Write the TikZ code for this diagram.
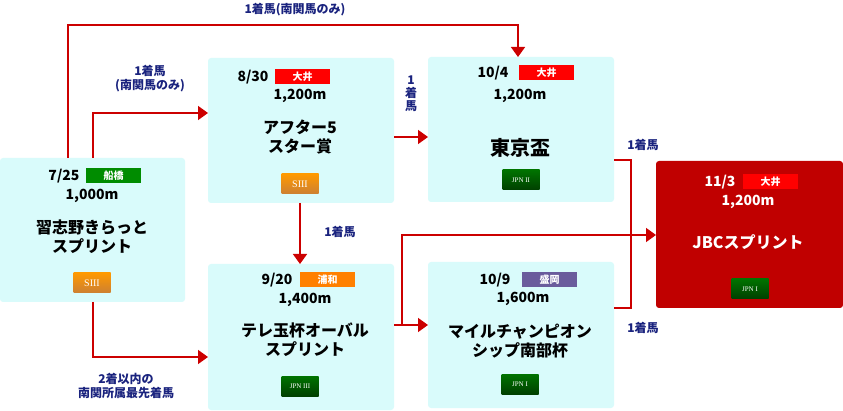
\documentclass[tikz,border=0pt]{standalone}
\usepackage{fontspec}
\setmainfont{Noto Sans CJK JP}
\newfontfamily\badgefont{Liberation Serif}
\usetikzlibrary{arrows.meta}
\definecolor{boxbg}{HTML}{D9FBFB}
\definecolor{lnred}{HTML}{CC0000}
\definecolor{navyc}{HTML}{1A237E}
\definecolor{jbcred}{HTML}{C00000}
\definecolor{morioka}{HTML}{6A5C9C}
\tikzset{
 racebox/.style={fill=boxbg,rounded corners=3pt,draw=none},
 connline/.style={draw=lnred,line width=1.6pt},
 arrline/.style={connline,-{Triangle[length=10pt,width=14pt]}},
 lbltext/.style={text=navyc,font=\bfseries\fontsize{12}{14}\selectfont,align=center},
 datetext/.style={anchor=east,font=\bfseries\fontsize{14}{14}\selectfont},
 disttext/.style={font=\bfseries\fontsize{14}{14}\selectfont},
 nametext/.style={font=\bfseries\fontsize{16}{19}\selectfont,align=center},
 venuetag/.style={anchor=west,text=white,minimum width=55pt,minimum height=15pt,inner sep=0pt,font=\bfseries\fontsize{10}{10}\selectfont},
 siiibadge/.style={minimum width=37pt,minimum height=20pt,inner sep=0pt,text=white,font=\badgefont\fontsize{10}{10}\selectfont,top color=orange!80!yellow,bottom color=brown!80!orange},
 jpnbadge/.style={minimum width=37pt,minimum height=20pt,inner sep=0pt,text=white,font=\badgefont\fontsize{7}{7}\selectfont,top color=green!45!black,bottom color=green!25!black}
}
\begin{document}
\begin{tikzpicture}[x=1pt,y=-1pt]
\useasboundingbox (0,0) rectangle (843,411);
\path[racebox] (0,158) rectangle (185,302);
\path[racebox] (208,58) rectangle (394,203);
\path[racebox] (208,264) rectangle (394,410);
\path[racebox] (428,57) rectangle (614,202);
\path[racebox] (428,262) rectangle (614,408);
\path[fill=jbcred,rounded corners=3pt] (656,161) rectangle (843,308);
\node[datetext] (ad) at (83,176) {7/25};
\node[venuetag,fill=green!55!black] (av) at (86,176) {船橋};
\node[disttext] (ak) at (92,196) {1,000m};
\node[nametext] (an) at (92,237) {習志野きらっと\\スプリント};
\node[siiibadge] (ag) at (92,283) {SIII};
\node[datetext] (bd) at (272,77) {8/30};
\node[venuetag,fill=red] (bv) at (275,77) {大井};
\node[disttext] (bk) at (300,96) {1,200m};
\node[nametext] (bn) at (300,137) {アフター5\\スター賞};
\node[siiibadge] (bg) at (300,184) {SIII};
\node[datetext] (cd) at (296,280) {9/20};
\node[venuetag,fill=orange] (cv) at (300,280) {浦和};
\node[disttext] (ck) at (305,300) {1,400m};
\node[nametext] (cn) at (305,340) {テレ玉杯オーバル\\スプリント};
\node[jpnbadge] (cg) at (300,386) {JPN III};
\node[datetext] (dd) at (512,73) {10/4};
\node[venuetag,fill=red] (dv) at (519,73) {大井};
\node[disttext] (dk) at (520,96) {1,200m};
\node[font=\bfseries\fontsize{20}{20}\selectfont] (dn) at (520,148) {東京盃};
\node[jpnbadge] (dg) at (521,180) {JPN II};
\node[datetext] (ed) at (514,280) {10/9};
\node[venuetag,fill=morioka] (ev) at (522,280) {盛岡};
\node[disttext] (ek) at (523,299) {1,600m};
\node[nametext] (en) at (520,341) {マイルチャンピオン\\シップ南部杯};
\node[jpnbadge] (eg) at (520,384) {JPN I};
\node[datetext,text=white] (fd) at (739,182) {11/3};
\node[venuetag,fill=red] (fv) at (743,182) {大井};
\node[disttext,text=white] (fk) at (748,202) {1,200m};
\node[nametext,text=white] (fn) at (748,242) {JBCスプリント};
\node[jpnbadge] (fg) at (750,289) {JPN I};
\draw[arrline] (68,158) |- (518,25) -- (518,57);
\draw[arrline] (93,158) |- (208,113);
\draw[arrline] (93,302) |- (208,357);
\draw[arrline] (300,203) -- (300,264);
\draw[arrline] (394,137) -- (428,137);
\draw[arrline] (394,325) -- (428,325);
\draw[arrline] (402,325) |- (656,235);
\draw[connline] (614,160) -| (631,308) -- (614,308);
\node[lbltext] (l1) at (295,10) {1着馬(南関馬のみ)};
\node[lbltext] (l2) at (150,79) {1着馬\\(南関馬のみ)};
\node[lbltext] (l3) at (126,386) {2着以内の\\南関所属最先着馬};
\node[lbltext] (l4) at (340,232) {1着馬};
\node[lbltext,font=\bfseries\fontsize{12}{13}\selectfont] (l5) at (411,94) {1\\着\\馬};
\node[lbltext] (l6) at (643,145) {1着馬};
\node[lbltext] (l7) at (643,328) {1着馬};
\end{tikzpicture}
\end{document}
